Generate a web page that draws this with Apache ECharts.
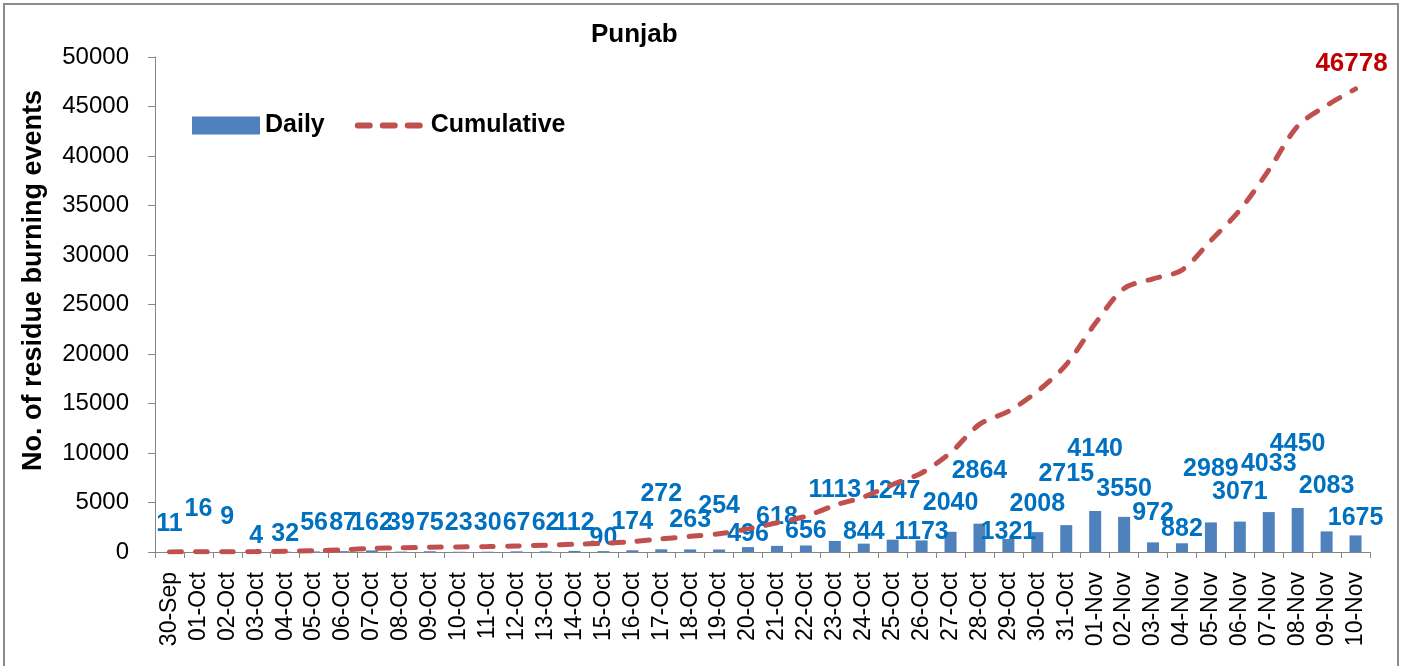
<!DOCTYPE html>
<html>
<head>
<meta charset="utf-8">
<script src="https://cdn.jsdelivr.net/npm/echarts@6/dist/echarts.min.js"></script>
<style>html,body{margin:0;padding:0;background:#fff}#c{width:1405px;height:666px}</style>
</head>
<body>
<div id="c"></div>
<script>
const categories = ['30-Sep','01-Oct','02-Oct','03-Oct','04-Oct','05-Oct','06-Oct','07-Oct','08-Oct','09-Oct','10-Oct','11-Oct','12-Oct','13-Oct','14-Oct','15-Oct','16-Oct','17-Oct','18-Oct','19-Oct','20-Oct','21-Oct','22-Oct','23-Oct','24-Oct','25-Oct','26-Oct','27-Oct','28-Oct','29-Oct','30-Oct','31-Oct','01-Nov','02-Nov','03-Nov','04-Nov','05-Nov','06-Nov','07-Nov','08-Nov','09-Nov','10-Nov'];
const daily = [11,16,9,4,32,56,87,162,39,75,23,30,67,62,112,90,174,272,263,254,496,618,656,1113,844,1247,1173,2040,2864,1321,2008,2715,4140,3550,972,882,2989,3071,4033,4450,2083,1675];
const cumulative = [11,27,36,40,72,128,215,377,416,491,514,544,611,673,785,875,1049,1321,1584,1838,2334,2952,3608,4721,5565,6812,7985,10025,12889,14210,16218,18933,23073,26623,27595,28477,31466,34537,38570,43020,45103,46778];
const yTicks = {min: 0, max: 50000, interval: 5000};
// label heights above the axis (px), as placed in the reference
const labelLift = [28,43,35,16,18,29,29,29,29,29,29,29,29,29,29,14,30,58,32,46,18,35,21,62,20,61,20,49,81,20,48,78,103,63,39,23,83,60,88,108,66,34];

const FONT = 'Liberation Sans';
const chart = echarts.init(document.getElementById('c'), null, {renderer: 'canvas'});

const barData = daily.map((v, i) => ({
  value: v,
  label: {offset: [0, -labelLift[i]]}
}));
const lineData = cumulative.map((v, i) => i === cumulative.length - 1
  ? {value: v, label: {show: true, position: 'top', distance: 12, offset: [-4, 0], color: '#C00000', fontSize: 26, fontWeight: 'bold', fontFamily: FONT, formatter: '{c}'}}
  : v);

chart.setOption({
  animation: false,
  backgroundColor: '#fff',
  title: {
    text: 'Punjab', left: 591, top: 22, padding: 0,
    textStyle: {fontFamily: FONT, fontSize: 26, fontWeight: 'bold', color: '#000'}
  },
  legend: {
    left: 192, top: 113, padding: 0, itemGap: 30, itemWidth: 68, itemHeight: 18,
    textStyle: {fontFamily: FONT, fontSize: 25, fontWeight: 'bold', color: '#000'},
    data: [
      {name: 'Daily', icon: 'rect'},
      {name: 'Cumulative', itemStyle: {opacity: 0}, lineStyle: {width: 6, type: [12, 13], cap: 'round', color: '#C0504D'}}
    ]
  },
  grid: {left: 155, right: 35, top: 57, bottom: 114, containLabel: false},
  graphic: [{
    type: 'rect', silent: true, z: -1,
    shape: {x: 4, y: 4, width: 1394, height: 680},
    style: {fill: 'none', stroke: '#8c8c8c', lineWidth: 2}
  }],
  xAxis: {
    type: 'category', data: categories, boundaryGap: true,
    axisLine: {lineStyle: {color: '#868686', width: 1}},
    axisTick: {show: true, interval: 0, length: 6, lineStyle: {color: '#868686'}},
    axisLabel: {interval: 0, rotate: 90, margin: 20, fontFamily: FONT, fontSize: 23, color: '#000'},
    splitLine: {show: false}
  },
  yAxis: {
    type: 'value', min: yTicks.min, max: yTicks.max, interval: yTicks.interval,
    name: 'No. of residue burning events', nameLocation: 'middle', nameGap: 108, nameRotate: 90,
    nameTextStyle: {fontFamily: FONT, fontSize: 27, fontWeight: 'bold', color: '#000', padding: [0, 0, 0, 48]},
    axisLine: {show: true, lineStyle: {color: '#868686', width: 1}},
    axisTick: {show: true, length: 7, lineStyle: {color: '#868686'}},
    axisLabel: {margin: 26, fontFamily: FONT, fontSize: 24, color: '#000', formatter: v => String(v)},
    splitLine: {show: false}
  },
  series: [{
    name: 'Daily', type: 'bar', data: barData, barWidth: 12,
    itemStyle: {color: '#4F81BD'},
    label: {
      show: true, position: 'insideBottom', distance: 0, verticalAlign: 'middle',
      color: '#0070C0', fontFamily: FONT, fontSize: 25, fontWeight: 'bold'
    },
    z: 2
  }, {
    name: 'Cumulative', type: 'line', data: lineData, smooth: 0.3,
    symbol: 'circle', symbolSize: 0, showSymbol: true, showAllSymbol: true,
    lineStyle: {color: '#C0504D', width: 5, type: [12, 14], cap: 'round'},
    itemStyle: {color: '#C0504D'},
    label: {show: false},
    z: 3
  }]
});
</script>
</body>
</html>
